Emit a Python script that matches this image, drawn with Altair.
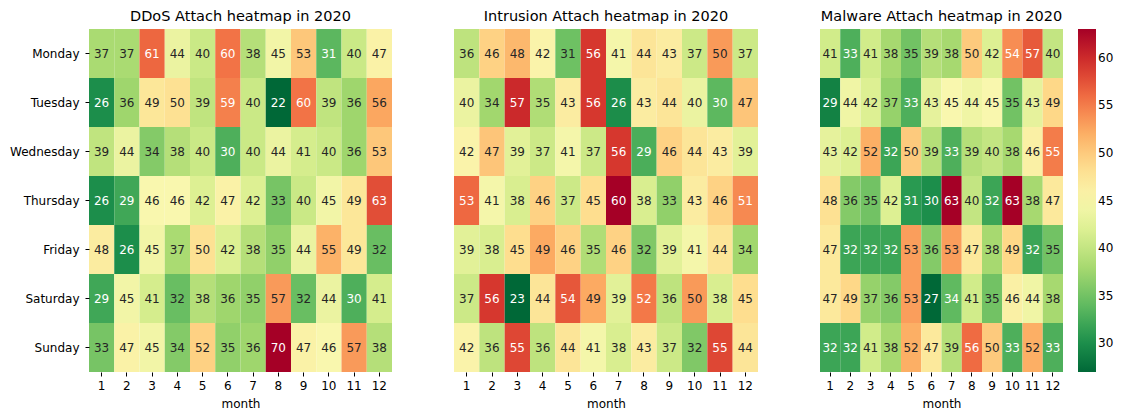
import altair as alt
import pandas as pd

days = ["Monday", "Tuesday", "Wednesday", "Thursday", "Friday", "Saturday", "Sunday"]
months = list(range(1, 13))

ddos = [
    [37, 37, 61, 44, 40, 60, 38, 45, 53, 31, 40, 47],
    [26, 36, 49, 50, 39, 59, 40, 22, 60, 39, 36, 56],
    [39, 44, 34, 38, 40, 30, 40, 44, 41, 40, 36, 53],
    [26, 29, 46, 46, 42, 47, 42, 33, 40, 45, 49, 63],
    [48, 26, 45, 37, 50, 42, 38, 35, 44, 55, 49, 32],
    [29, 45, 41, 32, 38, 36, 35, 57, 32, 44, 30, 41],
    [33, 47, 45, 34, 52, 35, 36, 70, 47, 46, 57, 38],
]
intrusion = [
    [36, 46, 48, 42, 31, 56, 41, 44, 43, 37, 50, 37],
    [40, 34, 57, 35, 43, 56, 26, 43, 44, 40, 30, 47],
    [42, 47, 39, 37, 41, 37, 56, 29, 46, 44, 43, 39],
    [53, 41, 38, 46, 37, 45, 60, 38, 33, 43, 46, 51],
    [39, 38, 45, 49, 46, 35, 46, 32, 39, 41, 44, 34],
    [37, 56, 23, 44, 54, 49, 39, 52, 36, 50, 38, 45],
    [42, 36, 55, 36, 44, 41, 38, 43, 37, 32, 55, 44],
]
malware = [
    [41, 33, 41, 38, 35, 39, 38, 50, 42, 54, 57, 40],
    [29, 44, 42, 37, 33, 43, 45, 44, 45, 35, 43, 49],
    [43, 42, 52, 32, 50, 39, 33, 39, 40, 38, 46, 55],
    [48, 36, 35, 42, 31, 30, 63, 40, 32, 63, 38, 47],
    [47, 32, 32, 32, 53, 36, 53, 47, 38, 49, 32, 35],
    [47, 49, 37, 36, 53, 27, 34, 41, 35, 46, 44, 38],
    [32, 32, 41, 38, 52, 47, 39, 56, 50, 33, 52, 33],
]
titles = ["DDoS Attach heatmap in 2020", "Intrusion Attach heatmap in 2020", "Malware Attach heatmap in 2020"]
legend_values = [30, 35, 40, 45, 50, 55, 60]

FONT = "DejaVu Sans"


def to_df(grid):
    rows = []
    for d, row in zip(days, grid):
        for m, v in zip(months, row):
            rows.append({"day": d, "month": m, "value": v})
    return pd.DataFrame(rows)


def panel(grid, title, width, show_y, show_legend):
    df = to_df(grid)
    vmin = min(min(r) for r in grid)
    vmax = max(max(r) for r in grid)
    base = alt.Chart(df).transform_calculate(
        norm=f"(datum.value - {vmin}) / ({vmax} - {vmin})"
    )
    yaxis = alt.Axis(
        title=None, labelFont=FONT, labelFontSize=12, labelColor="#000",
        tickSize=4, tickColor="#000", labelPadding=6, domain=False,
    ) if show_y else None
    x = alt.X("month:O", sort=months, axis=alt.Axis(
        title="month", labelAngle=0, labelFont=FONT, labelFontSize=12, labelColor="#000",
        titleFont=FONT, titleFontSize=12, titleFontWeight="normal", titleColor="#000",
        tickSize=4, tickColor="#000", labelPadding=4, titlePadding=7, domain=False,
    ), scale=alt.Scale(paddingInner=0, paddingOuter=0))
    y = alt.Y("day:N", sort=days, axis=yaxis, scale=alt.Scale(paddingInner=0, paddingOuter=0))
    legend = alt.Legend(
        title=None, values=legend_values, gradientLength=343, gradientThickness=18,
        labelFont=FONT, labelFontSize=12, labelColor="#000", offset=15,
        gradientStrokeWidth=0, direction="vertical",
    ) if show_legend else None
    rect = base.mark_rect().encode(
        x=x, y=y,
        color=alt.Color("value:Q", scale=alt.Scale(scheme="redyellowgreen", reverse=True,
                                                  domain=[vmin, vmax], nice=False, zero=False),
                        legend=legend),
    )
    text = base.mark_text(font=FONT, fontSize=12).encode(
        x=x, y=y,
        text=alt.Text("value:Q"),
        color=alt.condition("datum.norm < 0.2 || datum.norm > 0.74", alt.value("#ffffff"), alt.value("#262626")),
    )
    return alt.layer(rect, text).properties(
        width=width, height=343,
        title=alt.TitleParams(title, font=FONT, fontSize=14.5, fontWeight="normal", color="#000", offset=5),
    ).resolve_scale(color="independent")


p1 = panel(ddos, titles[0], 303, True, False)
p2 = panel(intrusion, titles[1], 304, False, False)
p3 = panel(malware, titles[2], 243, False, True)

chart = alt.hconcat(p1, p2, p3, spacing=62).resolve_scale(color="independent").configure_view(
    stroke=None
).properties(padding={"left": 1, "top": 0, "right": 0, "bottom": 0})

chart.save("out.html", embed_options={"renderer": "svg", "actions": False})
